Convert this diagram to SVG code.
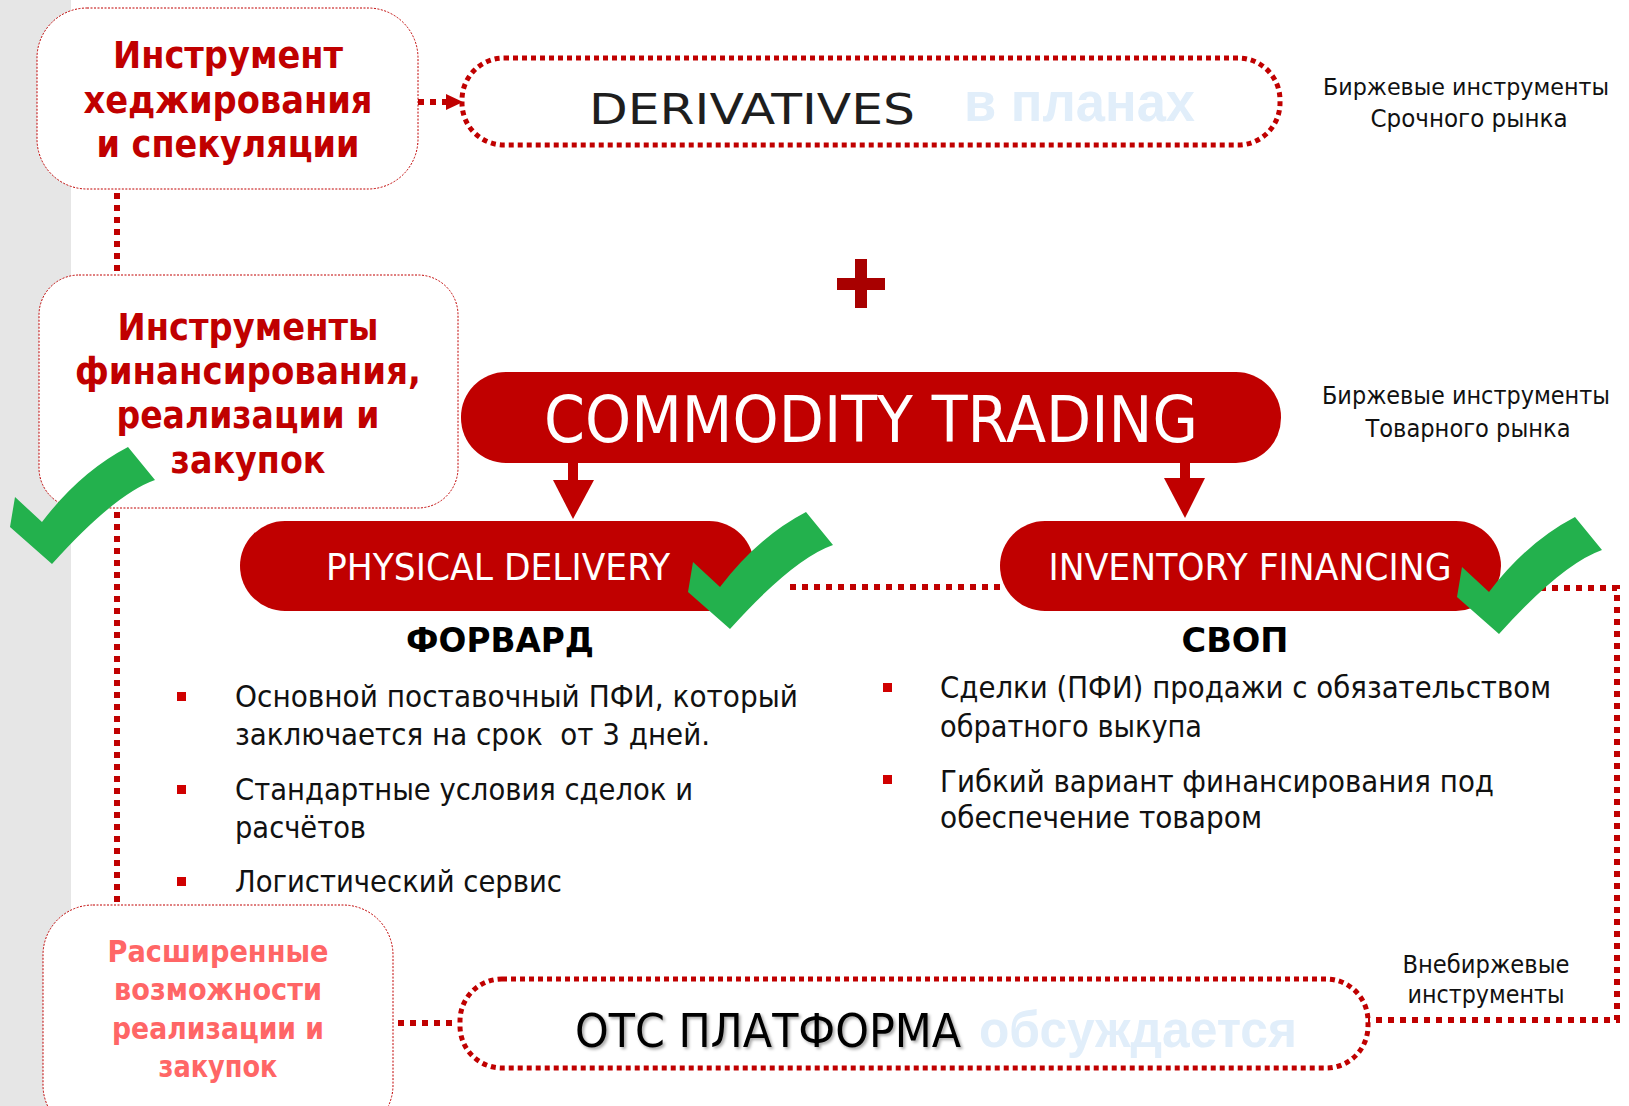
<svg xmlns="http://www.w3.org/2000/svg" width="1629" height="1106" viewBox="0 0 1629 1106">
<defs>
<style>
.box{fill:#fff;stroke:#c00000;stroke-width:1;stroke-dasharray:2 1.5}
.dotbox{fill:none;stroke:#c00000;stroke-width:5;stroke-dasharray:5 4}
.conn{fill:none;stroke:#c00000;stroke-width:6;stroke-dasharray:6 6}
.red{fill:#c00000}
.pill{fill:#c00000}
.chk{fill:#23b14d}
.bt{font-family:"DejaVu Sans","Liberation Sans",sans-serif;font-weight:bold;text-anchor:middle}
.t1{fill:#c00000;font-size:38px}
.t2{fill:#c00000;font-size:37px}
.t3{fill:#ff6666;font-size:30px}
.lbl{font-family:"DejaVu Sans","Liberation Sans",sans-serif;font-size:24px;fill:#111;text-anchor:middle}
.body{font-family:"DejaVu Sans","Liberation Sans",sans-serif;font-size:31px;fill:#111;white-space:pre}
.pt{font-family:"DejaVu Sans","Liberation Sans",sans-serif;fill:#fff;text-anchor:middle}
.hd{font-family:"DejaVu Sans","Liberation Sans",sans-serif;font-weight:bold;font-size:34px;fill:#000;text-anchor:middle}
.blue{font-family:"Liberation Sans",Arial,sans-serif;font-weight:bold;fill:#e1eefa}
.bul{fill:#d00000}
</style>
<path id="check" d="M0,0 L5,-30 L32,-5 Q70,-55 118,-80 L145,-47 Q105,-33 42,37 Z"/>
<filter id="sh" x="-5%" y="-20%" width="110%" height="140%">
<feDropShadow dx="2" dy="2" stdDeviation="1.5" flood-color="#000" flood-opacity="0.35"/>
</filter>
</defs>

<rect x="0" y="0" width="71" height="1106" fill="#e6e6e6"/>

<g id="connectors">
<path class="conn" d="M117,193 V272"/>
<path class="conn" d="M117,512 V903"/>
<path class="conn" d="M418,102 H446"/>
<polygon class="red" points="446,94 446,110 463,102"/>
<path class="conn" d="M398,1023 H458"/>
<path class="conn" d="M790,587 H1000"/>
<path class="conn" d="M1540,588 H1617 V1020 H1368"/>
<rect class="red" x="568" y="462" width="10" height="19"/>
<polygon class="red" points="553,480 594,480 573,519"/>
<rect class="red" x="1180" y="462" width="10" height="18"/>
<polygon class="red" points="1164,478 1205,478 1185,518"/>
</g>

<g id="node-hedging">
<rect class="box" x="37" y="8" width="381" height="181" rx="50"/>
<text class="bt t1" x="228" y="68" textLength="230" lengthAdjust="spacingAndGlyphs">Инструмент</text>
<text class="bt t1" x="228" y="113" textLength="289" lengthAdjust="spacingAndGlyphs">хеджирования</text>
<text class="bt t1" x="228" y="157" textLength="263" lengthAdjust="spacingAndGlyphs">и спекуляции</text>
</g>

<g id="node-derivatives">
<rect class="dotbox" x="462" y="58" width="818" height="87" rx="42"/>
<text x="589" y="124" font-family="DejaVu Sans,sans-serif" font-size="43" fill="#1e1e1e" textLength="326" lengthAdjust="spacingAndGlyphs">DERIVATIVES</text>
<text class="blue" x="964" y="121" font-size="56" textLength="231" lengthAdjust="spacingAndGlyphs">в планах</text>
</g>

<g id="label-derivatives">
<text class="lbl" x="1466" y="95" font-size="23" textLength="286" lengthAdjust="spacingAndGlyphs" style="font-size:23px">Биржевые инструменты</text>
<text class="lbl" x="1469" y="127" textLength="197" lengthAdjust="spacingAndGlyphs">Срочного рынка</text>
</g>

<g id="plus">
<rect x="855" y="259" width="12" height="49" fill="#a80000"/>
<rect x="837" y="278" width="48" height="12" fill="#a80000"/>
</g>

<g id="node-financing">
<rect class="box" x="39" y="275" width="419" height="233" rx="40"/>
<text class="bt t2" x="248" y="340" textLength="261" lengthAdjust="spacingAndGlyphs">Инструменты</text>
<text class="bt t2" x="248" y="384" textLength="346" lengthAdjust="spacingAndGlyphs">финансирования,</text>
<text class="bt t2" x="248" y="428" textLength="263" lengthAdjust="spacingAndGlyphs">реализации и</text>
<text class="bt t2" x="248" y="473" textLength="155" lengthAdjust="spacingAndGlyphs">закупок</text>
</g>

<g id="node-commodity">
<rect class="pill" x="461" y="372" width="820" height="91" rx="45"/>
<text class="pt" x="871" y="442" font-size="64" textLength="654" lengthAdjust="spacingAndGlyphs">COMMODITY TRADING</text>
</g>

<g id="label-commodity">
<text class="lbl" x="1466" y="404" textLength="288" lengthAdjust="spacingAndGlyphs">Биржевые инструменты</text>
<text class="lbl" x="1468" y="437" textLength="205" lengthAdjust="spacingAndGlyphs">Товарного рынка</text>
</g>

<g id="node-physical">
<rect class="pill" x="240" y="521" width="514" height="90" rx="45"/>
<text class="pt" x="498" y="580" font-size="37" textLength="344" lengthAdjust="spacingAndGlyphs">PHYSICAL DELIVERY</text>
</g>

<g id="node-inventory">
<rect class="pill" x="1000" y="521" width="501" height="90" rx="45"/>
<text class="pt" x="1250" y="580" font-size="37" textLength="403" lengthAdjust="spacingAndGlyphs">INVENTORY FINANCING</text>
</g>

<g id="forward">
<text class="hd" x="500" y="652" textLength="188" lengthAdjust="spacingAndGlyphs">ФОРВАРД</text>
<rect class="bul" x="177" y="692" width="9" height="9"/>
<text class="body" x="235" y="707" textLength="563" lengthAdjust="spacingAndGlyphs">Основной поставочный ПФИ, который</text>
<text class="body" x="235" y="745" textLength="475" lengthAdjust="spacingAndGlyphs">заключается на срок  от 3 дней.</text>
<rect class="bul" x="177" y="785" width="9" height="9"/>
<text class="body" x="235" y="800" textLength="458" lengthAdjust="spacingAndGlyphs">Стандартные условия сделок и</text>
<text class="body" x="235" y="838" textLength="131" lengthAdjust="spacingAndGlyphs">расчётов</text>
<rect class="bul" x="177" y="877" width="9" height="9"/>
<text class="body" x="235" y="892" textLength="327" lengthAdjust="spacingAndGlyphs">Логистический сервис</text>
</g>

<g id="swap">
<text class="hd" x="1235" y="652" textLength="107" lengthAdjust="spacingAndGlyphs">СВОП</text>
<rect class="bul" x="883" y="683" width="9" height="9"/>
<text class="body" x="940" y="698" textLength="611" lengthAdjust="spacingAndGlyphs">Сделки (ПФИ) продажи с обязательством</text>
<text class="body" x="940" y="737" textLength="262" lengthAdjust="spacingAndGlyphs">обратного выкупа</text>
<rect class="bul" x="883" y="775" width="9" height="9"/>
<text class="body" x="940" y="792" textLength="554" lengthAdjust="spacingAndGlyphs">Гибкий вариант финансирования под</text>
<text class="body" x="940" y="828" textLength="322" lengthAdjust="spacingAndGlyphs">обеспечение товаром</text>
</g>

<g id="node-extended">
<rect class="box" x="43" y="905" width="350" height="230" rx="50"/>
<text class="bt t3" x="218" y="962" textLength="221" lengthAdjust="spacingAndGlyphs">Расширенные</text>
<text class="bt t3" x="218" y="1000" textLength="208" lengthAdjust="spacingAndGlyphs">возможности</text>
<text class="bt t3" x="218" y="1039" textLength="212" lengthAdjust="spacingAndGlyphs">реализации и</text>
<text class="bt t3" x="218" y="1077" textLength="119" lengthAdjust="spacingAndGlyphs">закупок</text>
</g>

<g id="node-otc">
<rect class="dotbox" x="460" y="979" width="908" height="89" rx="42"/>
<text x="575" y="1047" font-family="DejaVu Sans,sans-serif" font-size="46" fill="#000" filter="url(#sh)" textLength="386" lengthAdjust="spacingAndGlyphs">ОТС ПЛАТФОРМА</text>
<text class="blue" x="979" y="1047" font-size="52" textLength="318" lengthAdjust="spacingAndGlyphs">обсуждается</text>
</g>

<g id="label-otc">
<text class="lbl" x="1486" y="973" textLength="167" lengthAdjust="spacingAndGlyphs">Внебиржевые</text>
<text class="lbl" x="1486" y="1003" textLength="157" lengthAdjust="spacingAndGlyphs">инструменты</text>
</g>

<g id="checks">
<use href="#check" class="chk" x="10" y="527"/>
<use href="#check" class="chk" x="688" y="592"/>
<use href="#check" class="chk" x="1457" y="597"/>
</g>
</svg>
